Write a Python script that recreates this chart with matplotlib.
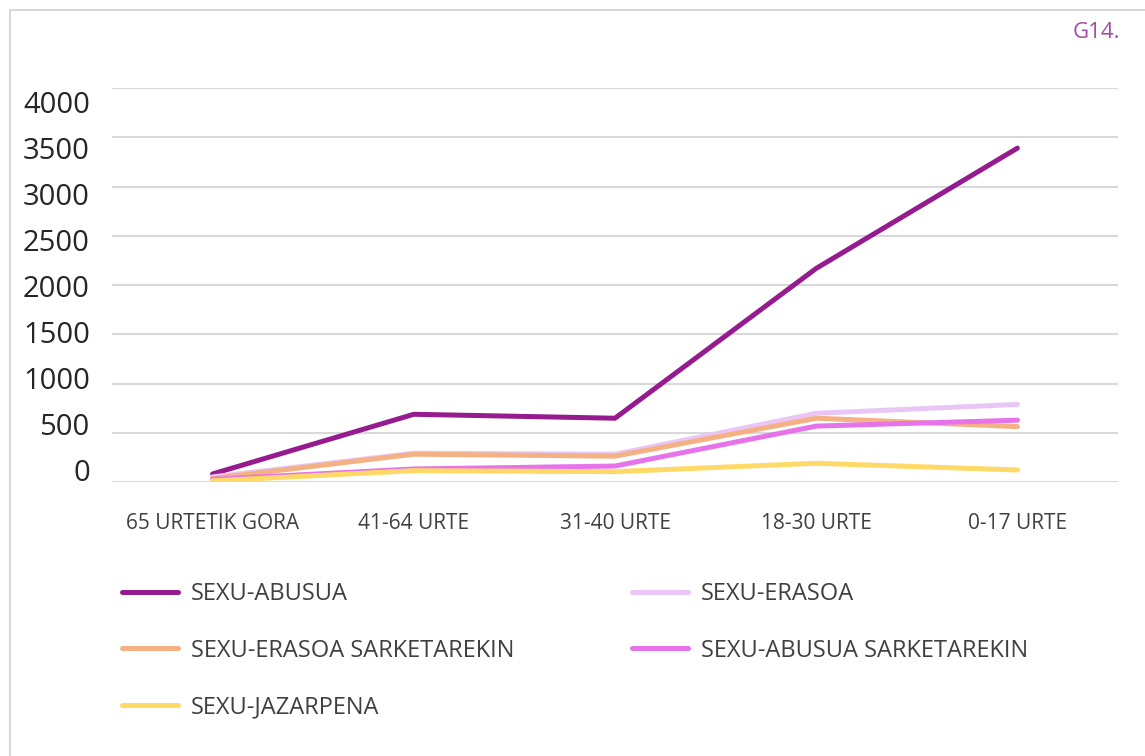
import matplotlib
matplotlib.use("Agg")
import matplotlib.pyplot as plt
from matplotlib.patches import Rectangle

# datuak
categories = ["65 URTETIK GORA", "41-64 URTE", "31-40 URTE", "18-30 URTE", "0-17 URTE"]
sexu_abusua = [85, 690, 650, 2170, 3390]
sexu_erasoa = [55, 295, 285, 700, 790]
sexu_erasoa_sark = [40, 285, 265, 650, 565]
sexu_abusua_sark = [30, 135, 165, 570, 630]
sexu_jazarpena = [15, 118, 108, 193, 125]
y_ticks = [0, 500, 1000, 1500, 2000, 2500, 3000, 3500, 4000]

series = [
    ("SEXU-ABUSUA", sexu_abusua, "#951B8F"),
    ("SEXU-ERASOA", sexu_erasoa, "#EAC6F7"),
    ("SEXU-ERASOA SARKETAREKIN", sexu_erasoa_sark, "#F4B183"),
    ("SEXU-ABUSUA SARKETAREKIN", sexu_abusua_sark, "#E673EA"),
    ("SEXU-JAZARPENA", sexu_jazarpena, "#FFD966"),
]

plt.rcParams['font.family'] = ['Open Sans', 'DejaVu Sans']

fig = plt.figure(figsize=(11.45, 7.56), dpi=100)
fig.patches.append(Rectangle((10 / 1145, -0.1), 1.2, 1.1 - 10 / 756,
                             transform=fig.transFigure, fill=False,
                             edgecolor="#D0D0D0", lw=1.2))

ax = fig.add_axes([112 / 1145, 1 - 482.3 / 756, 1006 / 1145, 394.3 / 756])
x = list(range(len(categories)))
handles = {}
for i, (name, vals, col) in enumerate(series):
    h, = ax.plot(x, vals, color=col, lw=3.6, solid_capstyle="round", zorder=3 + i)
    handles[name] = h

ax.set_xlim(-0.5, len(categories) - 0.5)
ax.set_ylim(0, 4000)
ax.set_yticks(y_ticks)
ax.yaxis.grid(True, color="#D9D9D9", lw=1.5)
ax.set_axisbelow(True)
ax.tick_params(axis="y", length=0, labelleft=False)
ax.tick_params(axis="x", length=0, pad=22, labelsize=15, labelcolor="#404040")
ax.set_xticks(x)
ax.set_xticklabels(categories)
for s in ax.spines.values():
    s.set_visible(False)

# ardatzeko etiketak apur bat estututa (jatorrizkoan bezala)
lab = ax.secondary_yaxis("left", functions=(lambda v: (v - 124.7) / 0.9328,
                                             lambda v: v * 0.9328 + 124.7))
lab.set_yticks(y_ticks)
lab.tick_params(length=0, labelsize=21, labelcolor="#262626", pad=16)
lab.spines["left"].set_visible(False)

order = ["SEXU-ABUSUA", "SEXU-ERASOA SARKETAREKIN", "SEXU-JAZARPENA",
         "SEXU-ERASOA", "SEXU-ABUSUA SARKETAREKIN"]
leg = fig.legend([handles[n] for n in order], order, ncol=2,
                 loc="upper left", bbox_to_anchor=(101 / 1145, 1 - 561 / 756),
                 frameon=False, fontsize=17, handlelength=2.35, handletextpad=0.55,
                 labelspacing=1.37, columnspacing=5.0)
for t in leg.get_texts():
    t.set_color("#404040")
for l in leg.get_lines():
    l.set_linewidth(3.6)

fig.text(1120 / 1145, 1 - 33 / 756, "G14.", color="#A64CA6", fontsize=16,
         ha="right", va="center")

fig.savefig("out.png", dpi=100)
